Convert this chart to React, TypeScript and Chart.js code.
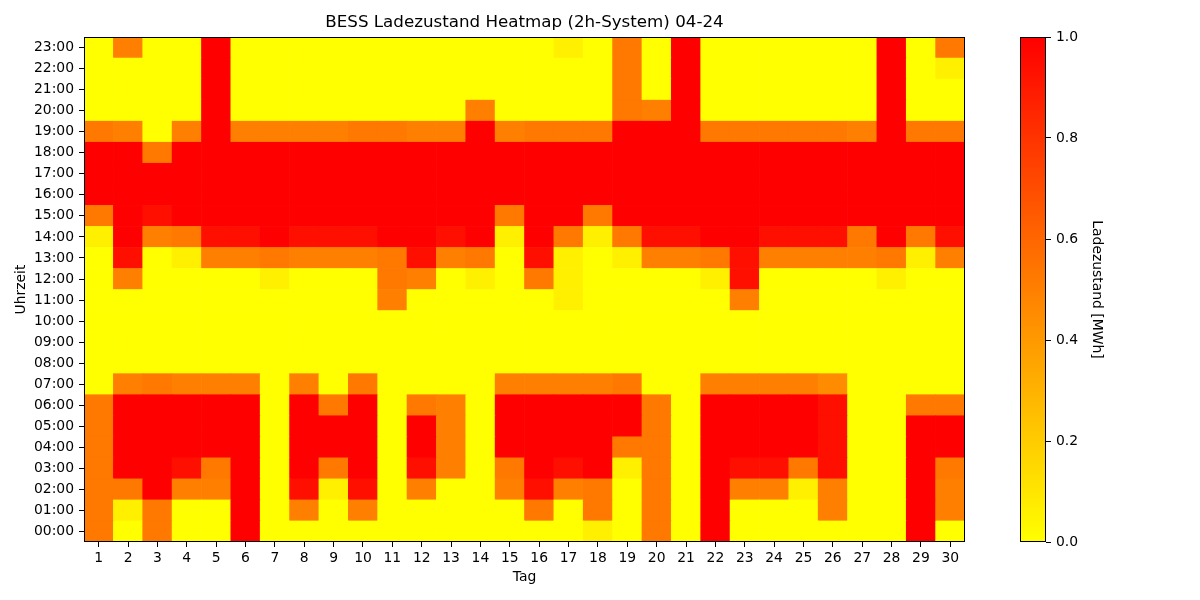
import React, { useEffect, useRef } from "react";
import { Chart, registerables } from "chart.js";

Chart.register(...registerables);

const chartTitle = "BESS Ladezustand Heatmap (2h-System) 04-24";
const xTitle = "Tag";
const yTitle = "Uhrzeit";
const colorbarTitle = "Ladezustand [MWh]";

const days = [
  "1", "2", "3", "4", "5", "6", "7", "8", "9", "10",
  "11", "12", "13", "14", "15", "16", "17", "18", "19", "20",
  "21", "22", "23", "24", "25", "26", "27", "28", "29", "30",
];

const hourLabels = [
  "00:00", "01:00", "02:00", "03:00", "04:00", "05:00", "06:00", "07:00",
  "08:00", "09:00", "10:00", "11:00", "12:00", "13:00", "14:00", "15:00",
  "16:00", "17:00", "18:00", "19:00", "20:00", "21:00", "22:00", "23:00",
];

const colorbarTicks = [0, 0.2, 0.4, 0.6, 0.8, 1.0];
const socMin = 0;
const socMax = 1;

// State of charge [MWh], one row per hour (00:00 ... 23:00), days 1..30
const soc00 = [0.53, 0, 0.53, 0, 0, 1, 0, 0, 0, 0, 0, 0, 0, 0, 0, 0, 0, 0.06, 0, 0.53, 0, 1, 0, 0, 0, 0, 0, 0, 1, 0];
const soc01 = [0.53, 0.06, 0.53, 0, 0, 1, 0, 0.5, 0, 0.5, 0, 0, 0, 0, 0, 0.53, 0, 0.53, 0, 0.53, 0, 1, 0, 0, 0, 0.5, 0, 0, 1, 0.5];
const soc02 = [0.53, 0.53, 1, 0.5, 0.5, 1, 0, 0.94, 0.06, 0.94, 0, 0.5, 0, 0, 0.5, 0.94, 0.5, 0.53, 0, 0.53, 0, 1, 0.5, 0.5, 0.06, 0.5, 0, 0, 1, 0.5];
const soc03 = [0.53, 1, 1, 0.94, 0.53, 1, 0, 1, 0.53, 1, 0, 0.94, 0.5, 0, 0.53, 1, 0.94, 1, 0.06, 0.53, 0, 1, 0.94, 0.94, 0.53, 0.94, 0, 0, 1, 0.53];
const soc04 = [0.53, 1, 1, 1, 1, 1, 0, 1, 1, 1, 0, 1, 0.5, 0, 1, 1, 1, 1, 0.53, 0.53, 0, 1, 1, 1, 1, 0.94, 0, 0, 1, 1];
const soc05 = [0.53, 1, 1, 1, 1, 1, 0, 1, 1, 1, 0, 1, 0.5, 0, 1, 1, 1, 1, 1, 0.53, 0, 1, 1, 1, 1, 0.94, 0, 0, 1, 1];
const soc06 = [0.53, 1, 1, 1, 1, 1, 0, 1, 0.53, 1, 0, 0.53, 0.5, 0, 1, 1, 1, 1, 1, 0.53, 0, 1, 1, 1, 1, 0.94, 0, 0, 0.53, 0.53];
const soc07 = [0, 0.5, 0.53, 0.5, 0.5, 0.5, 0, 0.5, 0, 0.53, 0, 0, 0, 0, 0.5, 0.5, 0.5, 0.5, 0.53, 0, 0, 0.5, 0.5, 0.5, 0.5, 0.45, 0, 0, 0, 0];
const soc08 = [0, 0, 0, 0, 0, 0, 0, 0, 0, 0, 0, 0, 0, 0, 0, 0, 0, 0, 0, 0, 0, 0, 0, 0, 0, 0, 0, 0, 0, 0];
const soc09 = [0, 0, 0, 0, 0, 0, 0, 0, 0, 0, 0, 0, 0, 0, 0, 0, 0, 0, 0, 0, 0, 0, 0, 0, 0, 0, 0, 0, 0, 0];
const soc10 = [0, 0, 0, 0, 0, 0, 0, 0, 0, 0, 0, 0, 0, 0, 0, 0, 0, 0, 0, 0, 0, 0, 0, 0, 0, 0, 0, 0, 0, 0];
const soc11 = [0, 0, 0, 0, 0, 0, 0, 0, 0, 0, 0.5, 0, 0, 0, 0, 0, 0.06, 0, 0, 0, 0, 0, 0.5, 0, 0, 0, 0, 0, 0, 0];
const soc12 = [0, 0.5, 0, 0, 0, 0, 0.06, 0, 0, 0, 0.53, 0.5, 0, 0.06, 0, 0.53, 0.06, 0, 0, 0, 0, 0.06, 0.94, 0, 0, 0, 0, 0.06, 0, 0];
const soc13 = [0, 0.94, 0, 0.06, 0.5, 0.5, 0.53, 0.5, 0.5, 0.5, 0.53, 0.94, 0.5, 0.53, 0, 0.94, 0.06, 0, 0.06, 0.5, 0.5, 0.53, 0.94, 0.5, 0.5, 0.5, 0.5, 0.53, 0.06, 0.5];
const soc14 = [0.06, 1, 0.5, 0.53, 0.94, 0.94, 1, 0.94, 0.94, 0.94, 1, 1, 0.94, 1, 0.06, 1, 0.53, 0.06, 0.53, 0.94, 0.94, 1, 1, 0.94, 0.94, 0.94, 0.53, 1, 0.53, 0.94];
const soc15 = [0.53, 1, 0.94, 1, 1, 1, 1, 1, 1, 1, 1, 1, 1, 1, 0.53, 1, 1, 0.53, 1, 1, 1, 1, 1, 1, 1, 1, 1, 1, 1, 1];
const soc16 = [1, 1, 1, 1, 1, 1, 1, 1, 1, 1, 1, 1, 1, 1, 1, 1, 1, 1, 1, 1, 1, 1, 1, 1, 1, 1, 1, 1, 1, 1];
const soc17 = [1, 1, 1, 1, 1, 1, 1, 1, 1, 1, 1, 1, 1, 1, 1, 1, 1, 1, 1, 1, 1, 1, 1, 1, 1, 1, 1, 1, 1, 1];
const soc18 = [1, 1, 0.53, 1, 1, 1, 1, 1, 1, 1, 1, 1, 1, 1, 1, 1, 1, 1, 1, 1, 1, 1, 1, 1, 1, 1, 1, 1, 1, 1];
const soc19 = [0.53, 0.5, 0, 0.5, 1, 0.5, 0.5, 0.5, 0.5, 0.53, 0.53, 0.5, 0.5, 1, 0.5, 0.53, 0.53, 0.53, 1, 1, 1, 0.53, 0.53, 0.53, 0.53, 0.53, 0.5, 1, 0.53, 0.53];
const soc20 = [0, 0, 0, 0, 1, 0, 0, 0, 0, 0, 0, 0, 0, 0.5, 0, 0, 0, 0, 0.53, 0.5, 1, 0, 0, 0, 0, 0, 0, 1, 0, 0];
const soc21 = [0, 0, 0, 0, 1, 0, 0, 0, 0, 0, 0, 0, 0, 0, 0, 0, 0, 0, 0.53, 0, 1, 0, 0, 0, 0, 0, 0, 1, 0, 0];
const soc22 = [0, 0, 0, 0, 1, 0, 0, 0, 0, 0, 0, 0, 0, 0, 0, 0, 0, 0, 0.53, 0, 1, 0, 0, 0, 0, 0, 0, 1, 0, 0.06];
const soc23 = [0, 0.5, 0, 0, 1, 0, 0, 0, 0, 0, 0, 0, 0, 0, 0, 0, 0.06, 0, 0.53, 0, 1, 0, 0, 0, 0, 0, 0, 1, 0, 0.53];

const socByHour = [
  soc00, soc01, soc02, soc03, soc04, soc05, soc06, soc07, soc08, soc09, soc10, soc11,
  soc12, soc13, soc14, soc15, soc16, soc17, soc18, soc19, soc20, soc21, soc22, soc23,
];

const FONT = "'DejaVu Sans', sans-serif";

// matplotlib "autumn_r": 0 -> yellow, 1 -> red
function socColor(v: number): string {
  const t = Math.max(0, Math.min(1, (v - socMin) / (socMax - socMin)));
  return `rgb(255, ${Math.round(255 * (1 - t))}, 0)`;
}

const framePlugin = {
  id: "frame",
  afterDatasetsDraw(chart: any) {
    const { ctx, chartArea } = chart;
    ctx.save();
    ctx.strokeStyle = "#000";
    ctx.lineWidth = 1;
    ctx.strokeRect(
      Math.round(chartArea.left) + 0.5,
      Math.round(chartArea.top) + 0.5,
      Math.round(chartArea.right - chartArea.left) - 1,
      Math.round(chartArea.bottom - chartArea.top) - 1
    );
    ctx.restore();
  },
};

export default function App() {
  const mainRef = useRef<HTMLCanvasElement>(null);
  const barRef = useRef<HTMLCanvasElement>(null);

  useEffect(() => {
    const tickFont = { family: FONT, size: 13.9 };

    const datasets = hourLabels.map((label, h) => ({
      label,
      data: days.map(() => [h, h + 1]),
      backgroundColor: socByHour[h].map(socColor),
      borderWidth: 0,
      barPercentage: 1,
      categoryPercentage: 1,
      grouped: false,
    }));

    const main = new Chart(mainRef.current as HTMLCanvasElement, {
      type: "bar",
      data: { labels: days, datasets: datasets as any },
      options: {
        animation: false,
        responsive: false,
        devicePixelRatio: 1,
        layout: { padding: { left: 0, right: 35, top: 0, bottom: 0 } },
        plugins: {
          legend: { display: false },
          tooltip: { enabled: false },
          title: {
            display: true,
            fullSize: false,
            text: chartTitle,
            color: "#000",
            font: { family: FONT, size: 16.7, weight: "normal" as any },
            padding: { top: 13, bottom: 4 },
          },
        },
        scales: {
          x: {
            type: "category",
            offset: true,
            grid: {
              display: true,
              drawOnChartArea: false,
              drawTicks: true,
              tickLength: 5,
              color: "#000",
              offset: false,
            },
            border: { display: false },
            ticks: {
              color: "#000",
              font: tickFont,
              padding: 3,
              maxRotation: 0,
              autoSkip: false,
            },
            title: {
              display: true,
              text: xTitle,
              color: "#000",
              font: tickFont,
              padding: { top: 0, bottom: 14.7 },
            },
            afterFit: (s: any) => {
              s.height = 58;
            },
          },
          y: {
            type: "linear",
            min: 0,
            max: hourLabels.length,
            afterBuildTicks: (s: any) => {
              s.ticks = hourLabels.map((_, i) => ({ value: i + 0.5 }));
            },
            grid: {
              display: true,
              drawOnChartArea: false,
              drawTicks: true,
              tickLength: 5,
              color: "#000",
            },
            border: { display: false },
            ticks: {
              color: "#000",
              font: tickFont,
              padding: 5,
              autoSkip: false,
              callback: (v: any) => hourLabels[Math.floor(Number(v))],
            },
            title: {
              display: true,
              text: yTitle,
              color: "#000",
              font: tickFont,
              padding: { top: 12.7, bottom: 0 },
            },
            afterFit: (s: any) => {
              s.width = 84;
            },
          },
        },
      },
      plugins: [framePlugin],
    });

    const bar = new Chart(barRef.current as HTMLCanvasElement, {
      type: "bar",
      data: {
        labels: [""],
        datasets: [
          {
            data: [[socMin, socMax]] as any,
            backgroundColor: (ctx: any) => {
              const area = ctx.chart.chartArea;
              if (!area) return socColor(socMax);
              const g = ctx.chart.ctx.createLinearGradient(0, area.bottom, 0, area.top);
              g.addColorStop(0, socColor(socMin));
              g.addColorStop(1, socColor(socMax));
              return g;
            },
            borderWidth: 0,
            barPercentage: 1,
            categoryPercentage: 1,
          },
        ],
      },
      options: {
        animation: false,
        responsive: false,
        devicePixelRatio: 1,
        layout: { padding: { left: 20, right: 0, top: 37, bottom: 58 } },
        plugins: {
          legend: { display: false },
          tooltip: { enabled: false },
        },
        scales: {
          x: { type: "category", display: false, offset: true },
          y: {
            type: "linear",
            position: "right",
            min: socMin,
            max: socMax,
            afterBuildTicks: (s: any) => {
              s.ticks = colorbarTicks.map((v) => ({ value: v }));
            },
            grid: {
              display: true,
              drawOnChartArea: false,
              drawTicks: true,
              tickLength: 5,
              color: "#000",
            },
            border: { display: false },
            ticks: {
              color: "#000",
              font: tickFont,
              padding: 5,
              callback: (v: any) => Number(v).toFixed(1),
            },
            title: {
              display: true,
              text: colorbarTitle,
              color: "#000",
              font: tickFont,
              padding: { top: 94.7, bottom: 0 },
            },
            afterFit: (s: any) => {
              s.width = 154;
            },
          },
        },
      },
      plugins: [framePlugin],
    });

    return () => {
      main.destroy();
      bar.destroy();
    };
  }, []);

  return (
    <div
      style={{
        position: "fixed",
        left: 0,
        top: 0,
        width: 1200,
        height: 600,
        background: "#fff",
        overflow: "hidden",
      }}
    >
      <canvas
        ref={mainRef}
        width={1000}
        height={600}
        style={{ position: "absolute", left: 0, top: 0, width: 1000, height: 600 }}
      />
      <canvas
        ref={barRef}
        width={200}
        height={600}
        style={{ position: "absolute", left: 1000, top: 0, width: 200, height: 600 }}
      />
    </div>
  );
}
